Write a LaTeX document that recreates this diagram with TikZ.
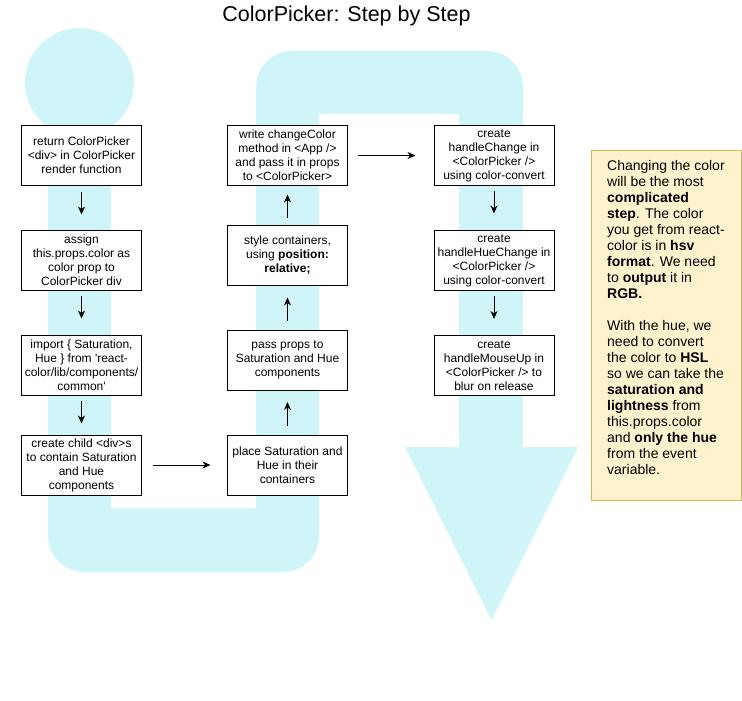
\documentclass[tikz,border=0pt]{standalone}
\usepackage{fontspec}
\setmainfont{Liberation Sans}
\usetikzlibrary{arrows.meta}
\definecolor{bandcolor}{RGB}{208,245,249}
\definecolor{notefill}{RGB}{255,242,204}
\definecolor{notedraw}{RGB}{214,182,86}
\begin{document}
\begin{tikzpicture}[x=1pt, y=-1pt,
    stepbox/.style={draw=black, line width=1pt, fill=white, minimum width=120pt,
      minimum height=60pt, inner sep=0pt, align=center,
      font=\fontsize{12}{14}\selectfont},
    flow/.style={-{Stealth[length=8pt, width=7pt, inset=2.5pt]}, line width=1pt},
    notebox/.style={draw=notedraw, fill=notefill, line width=1pt,
      minimum width=150pt, minimum height=350pt, inner sep=0pt}]
        \useasboundingbox (0,0) rectangle (742,701);
        % drawing the big flow arrow in the back
        \fill[bandcolor] (79.5,82.5) circle (54.5);
        \fill[bandcolor] (48,82) rectangle (111,510);
        \fill[bandcolor] (48,508) -- (48,536) arc[start angle=180, end angle=90, radius=36]
          -- (283,572) arc[start angle=90, end angle=0, radius=36] -- (319,508) -- cycle;
        \fill[bandcolor] (256,112) rectangle (319,510);
        \fill[bandcolor] (256,114) -- (256,87) arc[start angle=180, end angle=270, radius=36]
          -- (487,51) arc[start angle=270, end angle=360, radius=36] -- (523,114) -- cycle;
        \fill[bandcolor] (459,112) rectangle (523,447.5);
        \fill[bandcolor] (405,447) -- (578,447) -- (491.5,620) -- cycle;
        % title
        \node (title) at (346.5,16) {\fontsize{21.5}{26}\selectfont ColorPicker: Step by Step};
        % first column
        \node[stepbox] (render)   at (81.5,155.5) {return ColorPicker\\<div> in ColorPicker\\render function};
        \node[stepbox] (assign)   at (81.5,260)   {assign\\this.props.color as\\color prop to\\ColorPicker div};
        \node[stepbox] (import)   at (81.5,365)   {import \{ Saturation,\\Hue \} from \textquotesingle react-\\color/lib/components/\\common\textquotesingle};
        \node[stepbox] (child)    at (81.5,465)   {create child <div>s\\to contain Saturation\\and Hue\\components};
        % second column
        \node[stepbox] (place)    at (287.5,465)   {place Saturation and\\Hue in their\\containers};
        \node[stepbox] (props)    at (287.5,360)   {pass props to\\Saturation and Hue\\components};
        \node[stepbox] (style)    at (287.5,255.5) {style containers,\\using \textbf{position:}\\\textbf{relative;}};
        \node[stepbox] (change)   at (287.5,155.5) {write changeColor\\method in <App />\\and pass it in props\\to <ColorPicker>};
        % third column
        \node[stepbox] (handle)   at (494,155.5) {create\\handleChange in\\<ColorPicker />\\using color-convert};
        \node[stepbox] (huechange) at (494,260.5) {create\\handleHueChange in\\<ColorPicker />\\using color-convert};
        \node[stepbox] (mouseup)  at (494,365.5) {create\\handleMouseUp in\\<ColorPicker /> to\\blur on release};
        % drawing the arrows
        \draw[flow, shorten <=5.5pt, shorten >=15pt] (render) -- (assign);
        \draw[flow, shorten <=5pt, shorten >=16pt]   (assign) -- (import);
        \draw[flow, shorten <=5pt, shorten >=11pt]   (import) -- (child);
        \draw[flow, shorten <=10.5pt, shorten >=16.5pt] (child) -- (place);
        \draw[flow, shorten <=9pt, shorten >=11.5pt] (place) -- (props);
        \draw[flow, shorten <=9pt, shorten >=11.5pt] (props) -- (style);
        \draw[flow, shorten <=7pt, shorten >=8.5pt]  (style) -- (change);
        \draw[flow, shorten <=9.5pt, shorten >=18pt] (change) -- (handle);
        \draw[flow, shorten <=4.5pt, shorten >=16.5pt] (handle) -- (huechange);
        \draw[flow, shorten <=4.5pt, shorten >=16pt] (huechange) -- (mouseup);
        % the note on the right
        \node[notebox] (note) at (666,325) {};
        \node[anchor=north west, inner sep=0pt, align=left,
          font=\fontsize{14}{16}\selectfont] (notetext) at (607,160.5)
          {Changing the color\\will be the most\\\textbf{complicated}\\\textbf{step}. The color\\you get from react-\\color is in \textbf{hsv}\\\textbf{format}. We need\\to \textbf{output} it in\\\textbf{RGB.}\\[16pt]With the hue, we\\need to convert\\the color to \textbf{HSL}\\so we can take the\\\textbf{saturation and}\\\textbf{lightness} from\\this.props.color\\and \textbf{only the hue}\\from the event\\variable.};
\end{tikzpicture}
\end{document}
